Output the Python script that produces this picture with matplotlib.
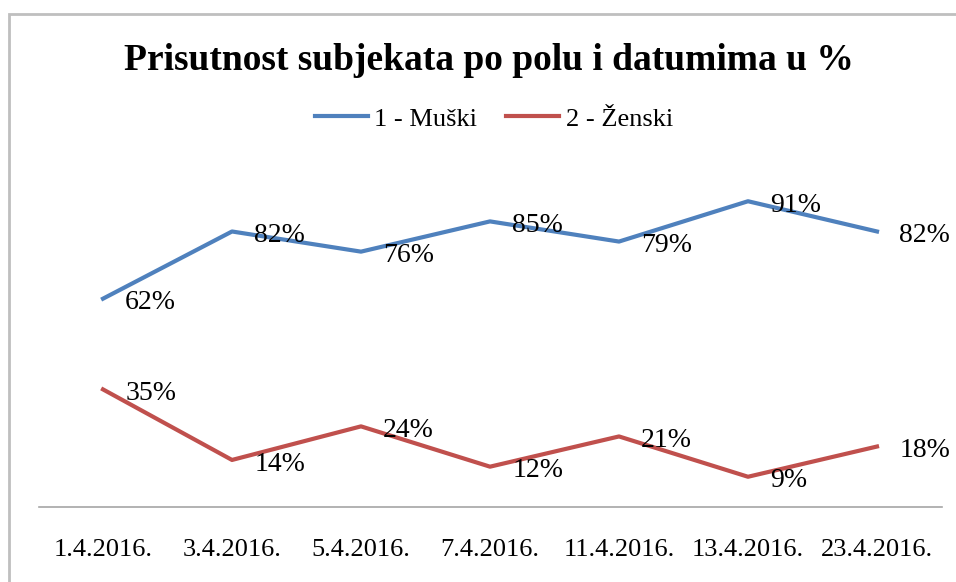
import matplotlib.pyplot as plt
from matplotlib.patches import Rectangle

# Data
dates = ["1.4.2016.", "3.4.2016.", "5.4.2016.", "7.4.2016.",
         "11.4.2016.", "13.4.2016.", "23.4.2016."]
muski = [62, 82, 76, 85, 79, 91, 82]
zenski = [35, 14, 24, 12, 21, 9, 18]

plt.rcParams['font.family'] = ['Liberation Serif', 'DejaVu Serif']

W, H = 956, 582
fig = plt.figure(figsize=(W / 100, H / 100), dpi=100)

# outer chart frame (only left and top edges visible in the picture)
fig.patches.append(Rectangle((9 / W, -0.5), 2.0, 1.5 - 14 / H,
                             transform=fig.transFigure, fill=False,
                             edgecolor="#BFBFBF", linewidth=2))

ax = fig.add_axes([38.5 / W, 75 / H, 903 / W, 336 / H])
x = list(range(len(dates)))
l1, = ax.plot(x, muski, color="#4F81BD", linewidth=3, label="1 - Muški")
l2, = ax.plot(x, zenski, color="#C0504D", linewidth=3, label="2 - Ženski")

for xi, v in zip(x, muski):
    ax.annotate(f"{v}%", (xi, v), xytext=(16, -3), textcoords="offset points",
                ha="left", va="center", fontsize=20)
for xi, v in zip(x, zenski):
    ax.annotate(f"{v}%", (xi, v), xytext=(16, -3), textcoords="offset points",
                ha="left", va="center", fontsize=20)

ax.set_xlim(-0.5, 6.5)
ax.set_ylim(0, 100)
ax.set_xticks(x)
ax.set_xticklabels(dates, fontsize=19)
ax.tick_params(axis="x", length=0, pad=23)
ax.set_yticks([])
for s in ["top", "right", "left"]:
    ax.spines[s].set_visible(False)
ax.spines["bottom"].set_color("#A6A6A6")
ax.spines["bottom"].set_linewidth(1.2)

fig.text(489 / W, 1 - 60 / H, "Prisutnost subjekata po polu i datumima u %",
         ha="center", va="center", fontsize=27, fontweight="bold")

fig.legend(handles=[l1, l2], loc="center", bbox_to_anchor=(494 / W, 1 - 119 / H),
           ncol=2, frameon=False, fontsize=19, handlelength=2.0,
           handletextpad=0.25, columnspacing=1.1)

fig.savefig("out.png", dpi=100)
